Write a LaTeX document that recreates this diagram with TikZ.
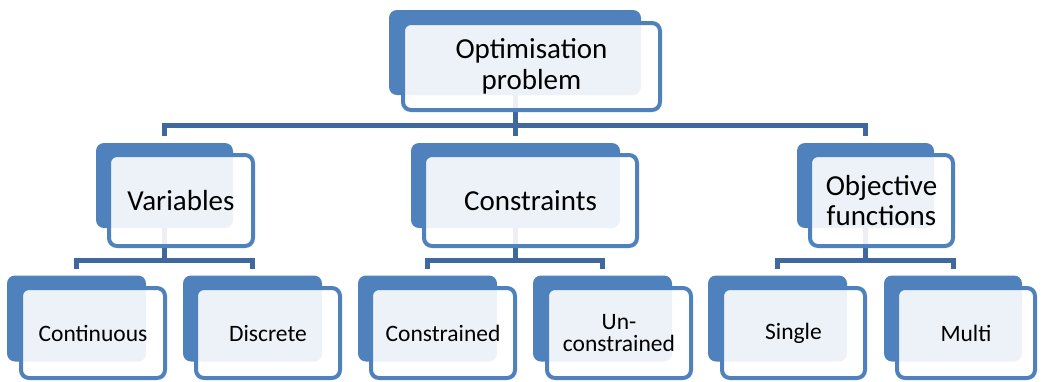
\documentclass[tikz,border=0pt]{standalone}
\usepackage{fontspec}
\setmainfont{Carlito}
\usetikzlibrary{calc}
\definecolor{boxblue}{HTML}{4F81BD}
\definecolor{connblue}{HTML}{3E689E}
\pgfdeclarelayer{bg}
\pgfsetlayers{bg,main}
\tikzset{
  backbox/.style={fill=boxblue, rounded corners=8pt, inner sep=0pt, outer sep=0pt},
  frontbox/.style={draw=boxblue, line width=4pt, fill=white, fill opacity=0.9,
    text opacity=1, text=black, rounded corners=8pt, inner sep=0pt, outer sep=0pt, align=center},
  bigtext/.style={font=\fontsize{29}{30.5}\selectfont},
  smalltext/.style={font=\fontsize{23.5}{22}\selectfont},
  conn/.style={draw=connblue, line width=5pt, line join=miter},
}
\begin{document}
\begin{tikzpicture}[x=1pt,y=-1pt]
\useasboundingbox (0,0) rectangle (1042,381);
% level 1
\node[backbox, minimum width=252pt, minimum height=85pt] (tb) at (515,52.5) {};
\node[frontbox, bigtext, minimum width=257pt, minimum height=87pt] (tf) at (531.5,66.5) {Optimisation\\problem};
% level 2
\node[backbox, minimum width=137pt, minimum height=85pt] (vb) at (164.5,185.5) {};
\node[frontbox, bigtext, minimum width=144pt, minimum height=91pt] (vf) at (181,200.5) {Variables};
\node[backbox, minimum width=209pt, minimum height=85pt] (cb) at (515.5,185.5) {};
\node[frontbox, bigtext, minimum width=213pt, minimum height=91pt] (cf) at (530.5,200.5) {Constraints};
\node[backbox, minimum width=137pt, minimum height=85pt] (ob) at (865.5,185.5) {};
\node[frontbox, bigtext, minimum width=143pt, minimum height=91pt] (of) at (881.5,200.5) {Objective\\functions};
% level 3
\node[backbox, minimum width=139pt, minimum height=86pt] (c1b) at (76.5,318.5) {};
\node[frontbox, smalltext, minimum width=144pt, minimum height=90pt] (c1f) at (93,333) {Continuous};
\node[backbox, minimum width=139pt, minimum height=86pt] (c2b) at (252.5,318.5) {};
\node[frontbox, smalltext, minimum width=144pt, minimum height=90pt] (c2f) at (268,333) {Discrete};
\node[backbox, minimum width=139pt, minimum height=86pt] (c3b) at (427.5,318.5) {};
\node[frontbox, smalltext, minimum width=144pt, minimum height=90pt] (c3f) at (443,333) {Constrained};
\node[backbox, minimum width=139pt, minimum height=86pt] (c4b) at (602.5,318.5) {};
\node[frontbox, smalltext, minimum width=144pt, minimum height=90pt] (c4f) at (619,333) {Un-\\constrained};
\node[backbox, minimum width=139pt, minimum height=86pt] (c5b) at (777.5,318.5) {};
\node[frontbox, smalltext, minimum width=143pt, minimum height=90pt] (c5f) at (793.5,333) {Single};
\node[backbox, minimum width=138pt, minimum height=86pt] (c6b) at (953,318.5) {};
\node[frontbox, smalltext, minimum width=138pt, minimum height=90pt] (c6f) at (966,333) {Multi};
% connectors
\begin{pgfonlayer}{bg}
\coordinate (bar1) at ($(vb.north)+(0,-18)$);
\draw[conn] (tb.south) -- (tb.south |- bar1);
\draw[conn] ($(vb.north)+(0,-7)$) |- ($(ob.north)+(0,-18)$) -- ($(ob.north)+(0,-7)$);
\draw[conn] ($(cb.north)+(0,-18)$) -- ($(cb.north)+(0,-7)$);
% level 2 -> 3
\coordinate (bar2) at ($(c1b.north)+(0,-15.5)$);
\draw[conn] (vb.south) -- (vb.south |- bar2);
\draw[conn] ($(c1b.north)+(0,-7)$) |- ($(c2b.north)+(0,-15.5)$) -- ($(c2b.north)+(0,-7)$);
\draw[conn] (cb.south) -- (cb.south |- bar2);
\draw[conn] ($(c3b.north)+(0,-7)$) |- ($(c4b.north)+(0,-15.5)$) -- ($(c4b.north)+(0,-7)$);
\draw[conn] (ob.south) -- (ob.south |- bar2);
\draw[conn] ($(c5b.north)+(0,-7)$) |- ($(c6b.north)+(0,-15.5)$) -- ($(c6b.north)+(0,-7)$);
\end{pgfonlayer}
\end{tikzpicture}
\end{document}
